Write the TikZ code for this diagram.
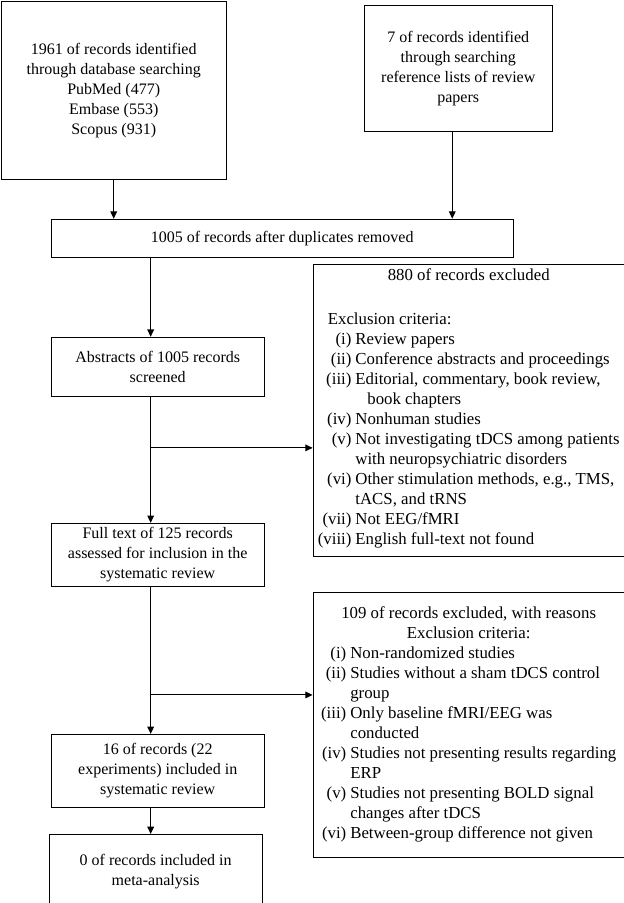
\documentclass[tikz,border=0pt]{standalone}
\usepackage{fontspec}
\setmainfont{Liberation Serif}
\usepackage{tikz}
\usetikzlibrary{positioning, arrows.meta}

\begin{document}
\begin{tikzpicture}[
    module/.style={rectangle, draw, line width=0.8pt, inner sep=1pt,
      align=center, font=\fontsize{12}{15}\selectfont},
    listbox/.style={module, font=\fontsize{12.6}{15}\selectfont},
    arrow/.style={line width=0.8pt, -{Triangle[length=5.5pt, width=5pt]}}]
    \useasboundingbox (0,0) rectangle (468pt,-677.25pt);

    % Identification
    \node[module, anchor=north west, minimum width=168.75pt, minimum height=133.5pt]
      (db) at (0.5pt,-0.5pt) {1961 of records identified\\through database searching\\PubMed (477)\\Embase (553)\\Scopus (931)};
    \node[module, below right=3pt and 102.75pt of db.north east, minimum width=141pt, minimum height=94.5pt]
      (refs) {7 of records identified\\through searching\\reference lists of review\\papers};
    \node[module, below right=29.25pt and 37.5pt of db.south west, minimum width=346.5pt, minimum height=28.5pt]
      (dup) {1005 of records after duplicates removed};

    % Screening
    \node[module, below right=59.25pt and 0pt of dup.south west, minimum width=159.75pt, minimum height=44.25pt]
      (abs) {Abstracts of 1005 records\\screened};
    \node[module, below right=94.5pt and 0pt of abs.south west, minimum width=159.75pt, minimum height=47.25pt]
      (full) {Full text of 125 records\\assessed for inclusion in the\\systematic review};
    \node[module, below right=110.25pt and 0pt of full.south west, minimum width=159.75pt, minimum height=54.75pt]
      (incl) {16 of records (22\\experiments) included in\\systematic review};
    \node[module, below right=19.5pt and -1.5pt of incl.south west, minimum width=159.75pt, minimum height=55.5pt]
      (meta) {0 of records included in\\meta-analysis};

    % Excluded
    \node[listbox, below right=4.5pt and 196.5pt of dup.south west, minimum width=233.25pt, minimum height=219pt]
      (excl1) {\begin{tabular}{@{}r@{\hspace{3pt}}l@{}}
        \multicolumn{2}{c}{880 of records excluded}\\[18pt]
        \multicolumn{2}{@{\hspace{7.5pt}}l}{Exclusion criteria:}\\
        (i) & Review papers\\
        (ii) & Conference abstracts and proceedings\\
        (iii) & Editorial, commentary, book review,\\
         & \hspace{9pt}book chapters\\
        (iv) & Nonhuman studies\\
        (v) & Not investigating tDCS among patients\\
         & with neuropsychiatric disorders\\
        (vi) & Other stimulation methods, e.g., TMS,\\
         & tACS, and tRNS\\
        (vii) & Not EEG/fMRI\\
        (viii) & English full-text not found\\[3pt]
      \end{tabular}};
    \node[listbox, below right=26.25pt and 0pt of excl1.south west, minimum width=233.25pt, minimum height=198.75pt]
      (excl2) {\begin{tabular}{@{}r@{\hspace{3pt}}l@{}}
        \multicolumn{2}{c}{109 of records excluded, with reasons}\\
        \multicolumn{2}{c}{Exclusion criteria:}\\
        (i) & Non-randomized studies\\
        (ii) & Studies without a sham tDCS control\\
         & group\\
        (iii) & Only baseline fMRI/EEG was\\
         & conducted\\
        (iv) & Studies not presenting results regarding\\
         & ERP\\
        (v) & Studies not presenting BOLD signal\\
         & changes after tDCS\\
        (vi) & Between-group difference not given
      \end{tabular}};

    % Flechas
    \coordinate (trunk) at (113pt,0);
    \coordinate (split1) at ([yshift=-38.25pt]abs.south -| trunk);
    \coordinate (split2) at ([yshift=-81pt]full.south -| trunk);
    \draw[arrow] (db.south) -- (db.south |- dup.north);
    \draw[arrow] ([xshift=-4.5pt]refs.south) -- ([xshift=-4.5pt]refs.south |- dup.north);
    \draw[arrow] (dup.south -| trunk) -- (abs.north -| trunk);
    \draw[arrow] (abs.south -| trunk) -- (full.north -| trunk);
    \draw[arrow] (split1) -- (split1 -| excl1.west);
    \draw[arrow] (full.south -| trunk) -- (incl.north -| trunk);
    \draw[arrow] (split2) -- (split2 -| excl2.west);
    \draw[arrow] (incl.south -| trunk) -- (meta.north -| trunk);
  \end{tikzpicture}
\end{document}
